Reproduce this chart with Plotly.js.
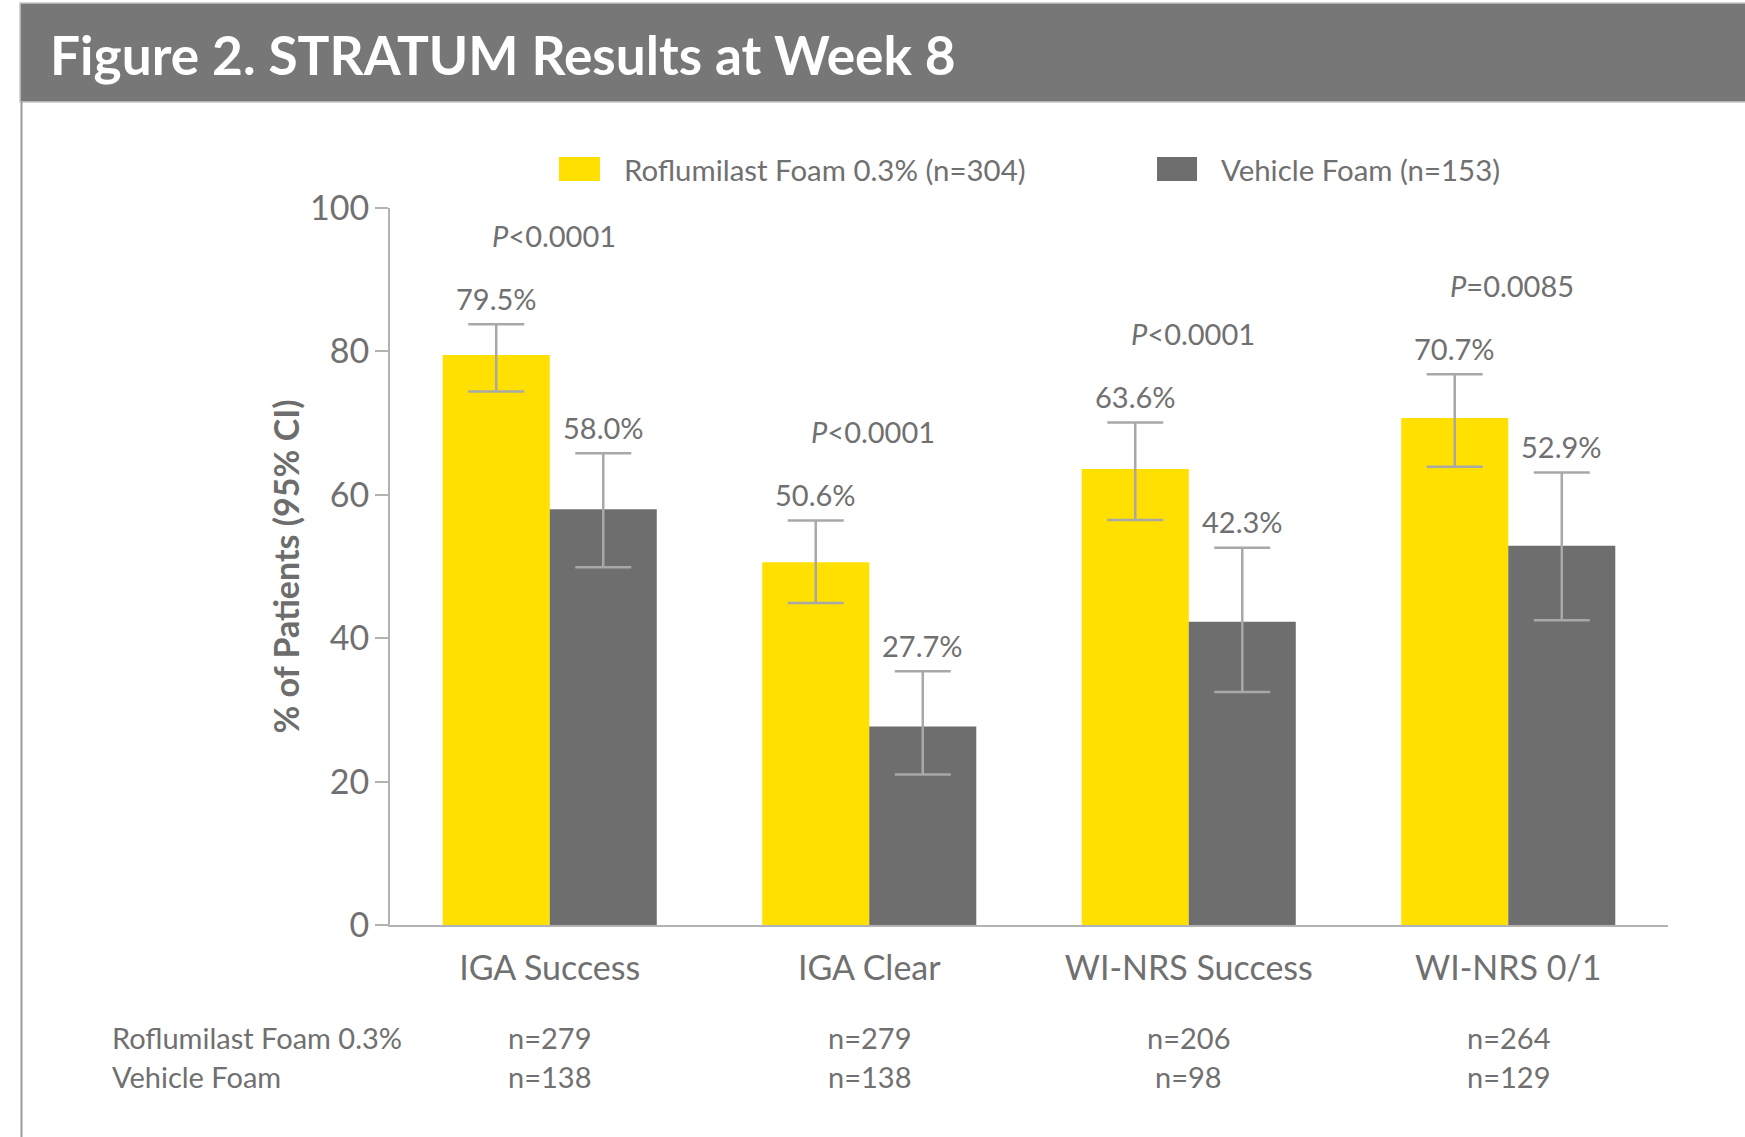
<!DOCTYPE html>
<html>
<head>
<meta charset="utf-8">
<script src="https://cdn.plot.ly/plotly-3.0.1.min.js"></script>
<style>
html,body{margin:0;padding:0;background:#fff;}
#chart{width:1745px;height:1137px;}
</style>
</head>
<body>
<div id="chart"></div>
<script>
// ---- data ----
const categories = ["IGA Success", "IGA Clear", "WI-NRS Success", "WI-NRS 0/1"];
const roflumilastName = "Roflumilast Foam 0.3% (n=304)";
const vehicleName = "Vehicle Foam (n=153)";
const roflumilastValues = [79.5, 50.6, 63.6, 70.7];
const roflumilastCILow  = [74.4, 44.9, 56.5, 63.9];
const roflumilastCIHigh = [83.8, 56.4, 70.1, 76.8];
const vehicleValues = [58.0, 27.7, 42.3, 52.9];
const vehicleCILow  = [49.9, 21.0, 32.5, 42.5];
const vehicleCIHigh = [65.8, 35.4, 52.6, 63.1];
const pValues = ["<i>P</i><0.0001", "<i>P</i><0.0001", "<i>P</i><0.0001", "<i>P</i>=0.0085"];
const rowLabels = ["Roflumilast Foam 0.3%", "Vehicle Foam"];
const roflumilastN = ["n=279", "n=279", "n=206", "n=264"];
const vehicleN = ["n=138", "n=138", "n=98", "n=129"];
const yTicks = [0, 20, 40, 60, 80, 100];
const titleText = "Figure 2. STRATUM Results at Week 8";
const yTitle = "% of Patients (95% CI)";

// ---- style ----
const FONT = "Lato, 'Open Sans', sans-serif";
const YELLOW = "#FFE000";
const GREY = "#6E6E6E";
const TXT = "#707070";
const AX = "#b3b3b3";
const ERR = "#a8a8a8";

const L = 390, R = 77, T = 208, B = 212, W = 1745, H = 1137;
const plotW = W - L - R, plotH = H - T - B;
const px = v => (v - L) / plotW;          // pixel x -> paper
const py = v => (H - B - v) / plotH;      // pixel y -> paper

const barGap = 0.33;
const halfBar = plotW / categories.length * (1 - barGap) / 2 / 2;

const traces = [
  {
    type: "bar", name: roflumilastName, x: categories, y: roflumilastValues,
    marker: {color: YELLOW}, showlegend: false,
    error_y: {type: "data", symmetric: false,
      array: roflumilastCIHigh.map((h, i) => h - roflumilastValues[i]),
      arrayminus: roflumilastCILow.map((l, i) => roflumilastValues[i] - l),
      color: ERR, thickness: 2.5, width: 28},
    hoverinfo: "y"
  },
  {
    type: "bar", name: vehicleName, x: categories, y: vehicleValues,
    marker: {color: GREY}, showlegend: false,
    error_y: {type: "data", symmetric: false,
      array: vehicleCIHigh.map((h, i) => h - vehicleValues[i]),
      arrayminus: vehicleCILow.map((l, i) => vehicleValues[i] - l),
      color: ERR, thickness: 2.5, width: 28},
    hoverinfo: "y"
  }
];

const annotations = [];
// header title
annotations.push({xref: "paper", yref: "paper", x: px(48), y: py(54), xanchor: "left", yanchor: "middle",
  text: "<b>" + titleText + "</b>", showarrow: false, font: {family: FONT, size: 53.2, color: "#ffffff"}});
// legend labels
annotations.push({xref: "paper", yref: "paper", x: px(622), y: py(170), xanchor: "left", yanchor: "middle",
  text: roflumilastName, showarrow: false, font: {family: FONT, size: 29.4, color: TXT}});
annotations.push({xref: "paper", yref: "paper", x: px(1219), y: py(170), xanchor: "left", yanchor: "middle",
  text: vehicleName, showarrow: false, font: {family: FONT, size: 29.4, color: TXT}});
// value labels & p-values
categories.forEach((c, i) => {
  annotations.push({x: c, y: roflumilastCIHigh[i], xshift: -halfBar, yshift: 26, yanchor: "middle",
    text: roflumilastValues[i].toFixed(1) + "%", showarrow: false, font: {family: FONT, size: 29, color: TXT}});
  annotations.push({x: c, y: vehicleCIHigh[i], xshift: halfBar, yshift: 26, yanchor: "middle",
    text: vehicleValues[i].toFixed(1) + "%", showarrow: false, font: {family: FONT, size: 29, color: TXT}});
  annotations.push({x: c, y: roflumilastCIHigh[i], xshift: 4, yshift: 89, yanchor: "middle",
    text: pValues[i], showarrow: false, font: {family: FONT, size: 29, color: TXT}});
  annotations.push({x: c, xref: "x", yref: "paper", y: py(1037), yanchor: "middle",
    text: roflumilastN[i], showarrow: false, font: {family: FONT, size: 29, color: TXT}});
  annotations.push({x: c, xref: "x", yref: "paper", y: py(1076), yanchor: "middle",
    text: vehicleN[i], showarrow: false, font: {family: FONT, size: 29, color: TXT}});
});
// table row labels
annotations.push({xref: "paper", yref: "paper", x: px(110), y: py(1037), xanchor: "left", yanchor: "middle",
  text: rowLabels[0], showarrow: false, font: {family: FONT, size: 29, color: TXT}});
annotations.push({xref: "paper", yref: "paper", x: px(110), y: py(1076), xanchor: "left", yanchor: "middle",
  text: rowLabels[1], showarrow: false, font: {family: FONT, size: 29, color: TXT}});

const shapes = [
  // header bar
  {type: "rect", xref: "paper", yref: "paper", x0: px(20), x1: px(1760), y0: py(102), y1: py(3),
    fillcolor: "#777777", line: {color: "#c8c8c8", width: 1.5}, layer: "below"},
  // left frame line
  {type: "line", xref: "paper", yref: "paper", x0: px(21.5), x1: px(21.5), y0: py(102), y1: py(1140),
    line: {color: "#9a9a9a", width: 2}},
  // legend swatches
  {type: "rect", xref: "paper", yref: "paper", x0: px(559), x1: px(600), y0: py(181), y1: py(157),
    fillcolor: YELLOW, line: {width: 0}},
  {type: "rect", xref: "paper", yref: "paper", x0: px(1157), x1: px(1197), y0: py(181), y1: py(157),
    fillcolor: GREY, line: {width: 0}}
];

const layout = {
  width: W, height: H,
  margin: {l: L, r: R, t: T, b: B, pad: 0},
  paper_bgcolor: "#ffffff", plot_bgcolor: "#ffffff",
  barmode: "group", bargap: barGap, bargroupgap: 0,
  font: {family: FONT, color: TXT},
  showlegend: false,
  xaxis: {
    type: "category", range: [-0.5, categories.length - 0.5], fixedrange: true,
    showline: true, linecolor: AX, linewidth: 2, ticks: "", showgrid: false, zeroline: false,
    tickfont: {family: FONT, size: 34, color: TXT}, ticklabelstandoff: 12
  },
  yaxis: {
    range: [0, 100], tickvals: yTicks, ticktext: yTicks.map(String), fixedrange: true,
    showline: true, linecolor: AX, linewidth: 2, ticks: "outside", ticklen: 13, tickwidth: 2, tickcolor: AX,
    showgrid: false, zeroline: false, ticklabelstandoff: -1,
    tickfont: {family: FONT, size: 34, color: TXT},
    title: {text: "<b>" + yTitle + "</b>", font: {family: FONT, size: 34, color: "#6d6d6d"}, standoff: 0}
  },
  annotations: annotations,
  shapes: shapes
};

Plotly.newPlot("chart", traces, layout, {displayModeBar: false, staticPlot: true});
</script>
</body>
</html>
